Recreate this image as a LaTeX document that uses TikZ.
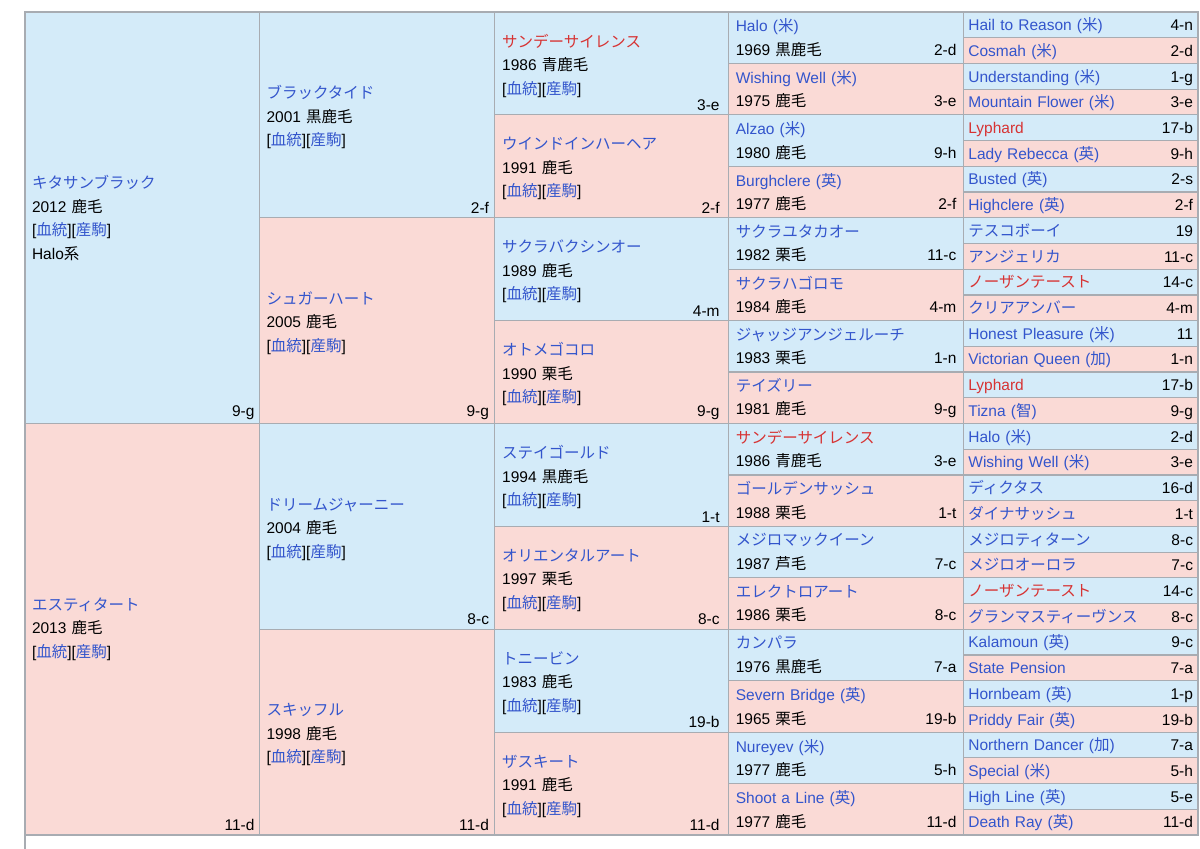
\documentclass[tikz,border=0pt]{standalone}
\usepackage{fontspec}
\setmainfont{Liberation Sans}
\newfontfamily\jpfont{Noto Sans CJK JP}
\usepackage{tikz}
\usetikzlibrary{positioning}
\definecolor{sireblue}{RGB}{212,235,249}
\definecolor{dampink}{RGB}{250,218,214}
\definecolor{gridgray}{RGB}{168,172,178}
\definecolor{linkblue}{RGB}{51,85,204}
\definecolor{redname}{RGB}{215,51,51}
\newcommand\cellfont{\fontsize{15.5}{23.5}\selectfont}
\newcommand\ja[1]{{\jpfont #1}}
\newcommand\bname[1]{\textcolor{linkblue}{#1}}
\newcommand\rname[1]{\textcolor{redname}{#1}}
\newcommand\yc[2]{#1 \ja{#2}}
\newcommand\cty[1]{(\ja{#1})}
\newcommand\links{[\textcolor{linkblue}{\ja{血統}}][\textcolor{linkblue}{\ja{産駒}}]}
\newcommand\toppad{\rule{0pt}{17.5pt}}
\tikzstyle{cell} = [rectangle, draw=gridgray, line width=1.2pt, outer sep=0pt, inner ysep=0pt, align=left, font=\cellfont]
\tikzstyle{sire} = [cell, fill=sireblue]
\tikzstyle{dam} = [cell, fill=dampink]
\tikzstyle{genA} = [inner xsep=7pt, text width=220.6pt, minimum height=411.52pt]
\tikzstyle{genB} = [inner xsep=7pt, text width=220.6pt, minimum height=205.76pt, execute at begin node=\toppad]
\tikzstyle{genC} = [inner xsep=8pt, text width=218.6pt, minimum height=102.88pt, execute at begin node=\toppad]
\tikzstyle{genD} = [inner xsep=7pt, text width=220.6pt, minimum height=51.44pt]
\tikzstyle{genE} = [inner xsep=5pt, text width=224.6pt, minimum height=25.72pt, text height=13.5pt, text depth=2pt]
\tikzstyle{famno} = [anchor=south east, inner xsep=5pt, inner ysep=4pt, font=\cellfont]
\tikzstyle{rule} = [draw=gridgray, line width=1.2pt]

\begin{document}
\begin{tikzpicture}[x=1pt,y=-1pt]
	\fill[white] (0,0) rectangle (1200,849);
	\useasboundingbox (0,0) rectangle (1200,849);
	% parents
	\node[sire,genA,anchor=north west] (s) at (25,12) {\bname{\ja{キタサンブラック}}\\ \yc{2012}{鹿毛}\\ \links\\ Halo\ja{系}};
	\node[dam,genA,below=0pt of s] (d) {\bname{\ja{エスティタート}}\\ \yc{2013}{鹿毛}\\ \links};
	% grandparents
	\node[sire,genB,anchor=north west] (ss) at (s.north east) {\bname{\ja{ブラックタイド}}\\ \yc{2001}{黒鹿毛}\\ \links};
	\node[dam,genB,below=0pt of ss] (sd) {\bname{\ja{シュガーハート}}\\ \yc{2005}{鹿毛}\\ \links};
	\node[sire,genB,anchor=north west] (ds) at (d.north east) {\bname{\ja{ドリームジャーニー}}\\ \yc{2004}{鹿毛}\\ \links};
	\node[dam,genB,below=0pt of ds] (dd) {\bname{\ja{スキッフル}}\\ \yc{1998}{鹿毛}\\ \links};
	% third generation
	\node[sire,genC,anchor=north west] (sss) at (ss.north east) {\rname{\ja{サンデーサイレンス}}\\ \yc{1986}{青鹿毛}\\ \links};
	\node[dam,genC,below=0pt of sss] (ssd) {\bname{\ja{ウインドインハーヘア}}\\ \yc{1991}{鹿毛}\\ \links};
	\node[sire,genC,anchor=north west] (sds) at (sd.north east) {\bname{\ja{サクラバクシンオー}}\\ \yc{1989}{鹿毛}\\ \links};
	\node[dam,genC,below=0pt of sds] (sdd) {\bname{\ja{オトメゴコロ}}\\ \yc{1990}{栗毛}\\ \links};
	\node[sire,genC,anchor=north west] (dss) at (ds.north east) {\bname{\ja{ステイゴールド}}\\ \yc{1994}{黒鹿毛}\\ \links};
	\node[dam,genC,below=0pt of dss] (dsd) {\bname{\ja{オリエンタルアート}}\\ \yc{1997}{栗毛}\\ \links};
	\node[sire,genC,anchor=north west] (dds) at (dd.north east) {\bname{\ja{トニービン}}\\ \yc{1983}{鹿毛}\\ \links};
	\node[dam,genC,below=0pt of dds] (ddd) {\bname{\ja{ザスキート}}\\ \yc{1991}{鹿毛}\\ \links};
	% fourth generation
	\node[sire,genD,anchor=north west] (ssss) at (sss.north east) {\bname{Halo \cty{米}}\\ \yc{1969}{黒鹿毛}\hfill 2-d};
	\node[dam,genD,below=0pt of ssss] (sssd) {\bname{Wishing Well \cty{米}}\\ \yc{1975}{鹿毛}\hfill 3-e};
	\node[sire,genD,anchor=north west] (ssds) at (ssd.north east) {\bname{Alzao \cty{米}}\\ \yc{1980}{鹿毛}\hfill 9-h};
	\node[dam,genD,below=0pt of ssds] (ssdd) {\bname{Burghclere \cty{英}}\\ \yc{1977}{鹿毛}\hfill 2-f};
	\node[sire,genD,anchor=north west] (sdss) at (sds.north east) {\bname{\ja{サクラユタカオー}}\\ \yc{1982}{栗毛}\hfill 11-c};
	\node[dam,genD,below=0pt of sdss] (sdsd) {\bname{\ja{サクラハゴロモ}}\\ \yc{1984}{鹿毛}\hfill 4-m};
	\node[sire,genD,anchor=north west] (sdds) at (sdd.north east) {\bname{\ja{ジャッジアンジェルーチ}}\\ \yc{1983}{栗毛}\hfill 1-n};
	\node[dam,genD,below=0pt of sdds] (sddd) {\bname{\ja{テイズリー}}\\ \yc{1981}{鹿毛}\hfill 9-g};
	\node[sire,genD,anchor=north west] (dsss) at (dss.north east) {\rname{\ja{サンデーサイレンス}}\\ \yc{1986}{青鹿毛}\hfill 3-e};
	\node[dam,genD,below=0pt of dsss] (dssd) {\bname{\ja{ゴールデンサッシュ}}\\ \yc{1988}{栗毛}\hfill 1-t};
	\node[sire,genD,anchor=north west] (dsds) at (dsd.north east) {\bname{\ja{メジロマックイーン}}\\ \yc{1987}{芦毛}\hfill 7-c};
	\node[dam,genD,below=0pt of dsds] (dsdd) {\bname{\ja{エレクトロアート}}\\ \yc{1986}{栗毛}\hfill 8-c};
	\node[sire,genD,anchor=north west] (ddss) at (dds.north east) {\bname{\ja{カンパラ}}\\ \yc{1976}{黒鹿毛}\hfill 7-a};
	\node[dam,genD,below=0pt of ddss] (ddsd) {\bname{Severn Bridge \cty{英}}\\ \yc{1965}{栗毛}\hfill 19-b};
	\node[sire,genD,anchor=north west] (ddds) at (ddd.north east) {\bname{Nureyev \cty{米}}\\ \yc{1977}{鹿毛}\hfill 5-h};
	\node[dam,genD,below=0pt of ddds] (dddd) {\bname{Shoot a Line \cty{英}}\\ \yc{1977}{鹿毛}\hfill 11-d};
	% fifth generation
	\node[sire,genE,anchor=north west] (sssss) at (ssss.north east) {\bname{Hail to Reason \cty{米}}\hfill 4-n};
	\node[dam,genE,below=0pt of sssss] (ssssd) {\bname{Cosmah \cty{米}}\hfill 2-d};
	\node[sire,genE,anchor=north west] (sssds) at (sssd.north east) {\bname{Understanding \cty{米}}\hfill 1-g};
	\node[dam,genE,below=0pt of sssds] (sssdd) {\bname{Mountain Flower \cty{米}}\hfill 3-e};
	\node[sire,genE,anchor=north west] (ssdss) at (ssds.north east) {\rname{Lyphard}\hfill 17-b};
	\node[dam,genE,below=0pt of ssdss] (ssdsd) {\bname{Lady Rebecca \cty{英}}\hfill 9-h};
	\node[sire,genE,anchor=north west] (ssdds) at (ssdd.north east) {\bname{Busted \cty{英}}\hfill 2-s};
	\node[dam,genE,below=0pt of ssdds] (ssddd) {\bname{Highclere \cty{英}}\hfill 2-f};
	\node[sire,genE,anchor=north west] (sdsss) at (sdss.north east) {\bname{\ja{テスコボーイ}}\hfill 19};
	\node[dam,genE,below=0pt of sdsss] (sdssd) {\bname{\ja{アンジェリカ}}\hfill 11-c};
	\node[sire,genE,anchor=north west] (sdsds) at (sdsd.north east) {\rname{\ja{ノーザンテースト}}\hfill 14-c};
	\node[dam,genE,below=0pt of sdsds] (sdsdd) {\bname{\ja{クリアアンバー}}\hfill 4-m};
	\node[sire,genE,anchor=north west] (sddss) at (sdds.north east) {\bname{Honest Pleasure \cty{米}}\hfill 11};
	\node[dam,genE,below=0pt of sddss] (sddsd) {\bname{Victorian Queen \cty{加}}\hfill 1-n};
	\node[sire,genE,anchor=north west] (sddds) at (sddd.north east) {\rname{Lyphard}\hfill 17-b};
	\node[dam,genE,below=0pt of sddds] (sdddd) {\bname{Tizna \cty{智}}\hfill 9-g};
	\node[sire,genE,anchor=north west] (dssss) at (dsss.north east) {\bname{Halo \cty{米}}\hfill 2-d};
	\node[dam,genE,below=0pt of dssss] (dsssd) {\bname{Wishing Well \cty{米}}\hfill 3-e};
	\node[sire,genE,anchor=north west] (dssds) at (dssd.north east) {\bname{\ja{ディクタス}}\hfill 16-d};
	\node[dam,genE,below=0pt of dssds] (dssdd) {\bname{\ja{ダイナサッシュ}}\hfill 1-t};
	\node[sire,genE,anchor=north west] (dsdss) at (dsds.north east) {\bname{\ja{メジロティターン}}\hfill 8-c};
	\node[dam,genE,below=0pt of dsdss] (dsdsd) {\bname{\ja{メジロオーロラ}}\hfill 7-c};
	\node[sire,genE,anchor=north west] (dsdds) at (dsdd.north east) {\rname{\ja{ノーザンテースト}}\hfill 14-c};
	\node[dam,genE,below=0pt of dsdds] (dsddd) {\bname{\ja{グランマスティーヴンス}}\hfill 8-c};
	\node[sire,genE,anchor=north west] (ddsss) at (ddss.north east) {\bname{Kalamoun \cty{英}}\hfill 9-c};
	\node[dam,genE,below=0pt of ddsss] (ddssd) {\bname{State Pension}\hfill 7-a};
	\node[sire,genE,anchor=north west] (ddsds) at (ddsd.north east) {\bname{Hornbeam \cty{英}}\hfill 1-p};
	\node[dam,genE,below=0pt of ddsds] (ddsdd) {\bname{Priddy Fair \cty{英}}\hfill 19-b};
	\node[sire,genE,anchor=north west] (dddss) at (ddds.north east) {\bname{Northern Dancer \cty{加}}\hfill 7-a};
	\node[dam,genE,below=0pt of dddss] (dddsd) {\bname{Special \cty{米}}\hfill 5-h};
	\node[sire,genE,anchor=north west] (dddds) at (dddd.north east) {\bname{High Line \cty{英}}\hfill 5-e};
	\node[dam,genE,below=0pt of dddds] (ddddd) {\bname{Death Ray \cty{英}}\hfill 11-d};
	% family numbers
	\node[famno] (s-no) at (s.south east) {9-g};
	\node[famno] (d-no) at (d.south east) {11-d};
	\node[famno] (ss-no) at (ss.south east) {2-f};
	\node[famno] (sd-no) at (sd.south east) {9-g};
	\node[famno] (ds-no) at (ds.south east) {8-c};
	\node[famno] (dd-no) at (dd.south east) {11-d};
	\node[famno,inner xsep=9pt] (sss-no) at (sss.south east) {3-e};
	\node[famno,inner xsep=9pt] (ssd-no) at (ssd.south east) {2-f};
	\node[famno,inner xsep=9pt] (sds-no) at (sds.south east) {4-m};
	\node[famno,inner xsep=9pt] (sdd-no) at (sdd.south east) {9-g};
	\node[famno,inner xsep=9pt] (dss-no) at (dss.south east) {1-t};
	\node[famno,inner xsep=9pt] (dsd-no) at (dsd.south east) {8-c};
	\node[famno,inner xsep=9pt] (dds-no) at (dds.south east) {19-b};
	\node[famno,inner xsep=9pt] (ddd-no) at (ddd.south east) {11-d};
	% foot row
	\coordinate (foot) at (25,849);
	\path[rule] (d.south west) -- (foot);
\end{tikzpicture}
\end{document}
